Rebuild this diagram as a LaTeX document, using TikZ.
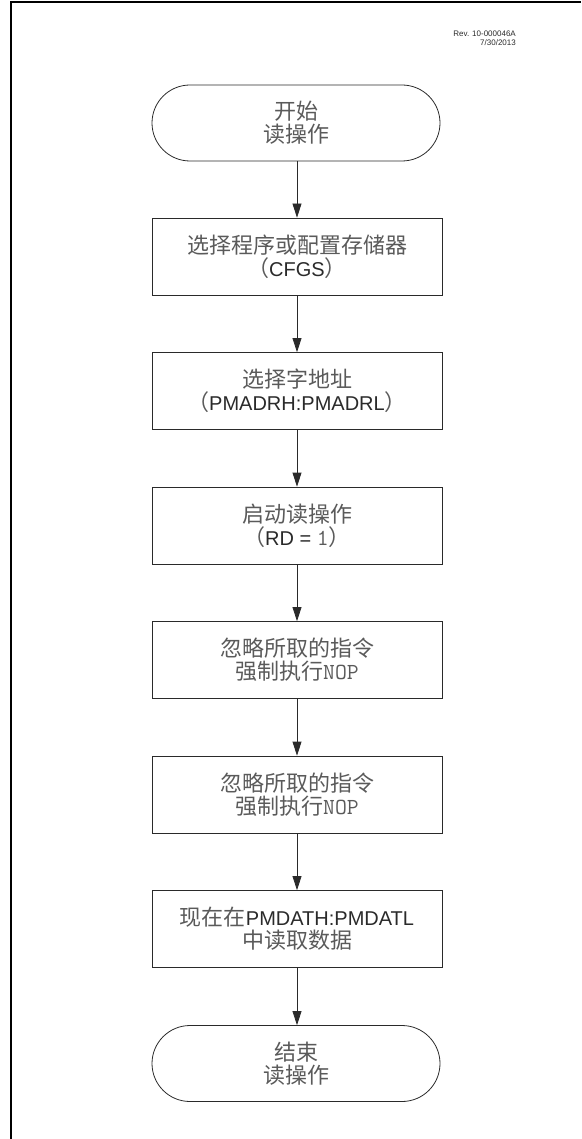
\documentclass[tikz,border=0pt]{standalone}
\usepackage{fontspec}
\setmainfont{Liberation Sans}
\newfontfamily\cjk[Scale=1.1]{Noto Sans CJK SC}
\usetikzlibrary{arrows.meta}
\definecolor{zhc}{HTML}{5A5A5A}
\definecolor{enc}{HTML}{2A2A2A}
\definecolor{linec}{HTML}{2A2A2A}
\newcommand\zh[1]{{\cjk\color{zhc}#1}}
\newcommand\mo[1]{{\ttfamily\fontsize{23}{23}\selectfont\color{zhc}#1}}
\tikzset{
  proc/.style={draw=linec, line width=0.8pt, rectangle, minimum width=290pt, minimum height=77pt, align=center, inner sep=0pt, font=\fontsize{20}{23}\selectfont, text=enc},
  term/.style={draw=linec, line width=0.8pt, rectangle, rounded corners=38pt, minimum width=288pt, minimum height=76pt, align=center, inner sep=0pt, font=\fontsize{20}{23}\selectfont, text=enc},
  flow/.style={draw=linec, line width=0.8pt, -{Triangle[length=14pt,width=9pt]}}
}
\begin{document}
\begin{tikzpicture}[x=1pt,y=-1pt]
\useasboundingbox (0,0) rectangle (581,1139);
\draw[line width=2pt, black] (11,1139) -- (11,2) -- (581,2);
\node[anchor=north east, align=right, inner sep=0pt, font=\fontsize{8}{9}\selectfont, text=enc] (rev) at (516,31) {Rev. 10-000046A\\7/30/2013};
\node[term] (s) at (296,123) {\zh{开始}\\\zh{读操作}};
\node[proc] (b1) at (297,256.5) {\zh{选择程序或配置存储器}\\\zh{（}CFGS\zh{）}};
\node[proc] (b2) at (297,391) {\zh{选择字地址}\\\zh{（}PMADRH:PMADRL\zh{）}};
\node[proc] (b3) at (297,525.5) {\zh{启动读操作}\\\zh{（}RD = \mo{1}\zh{）}};
\node[proc] (b4) at (297,660) {\zh{忽略所取的指令}\\\zh{强制执行}\mo{NOP}};
\node[proc] (b5) at (297,794.5) {\zh{忽略所取的指令}\\\zh{强制执行}\mo{NOP}};
\node[proc] (b6) at (297,929) {\zh{现在在}PMDATH:PMDATL\\\zh{中读取数据}};
\node[term] (e) at (296,1063.5) {\zh{结束}\\\zh{读操作}};
\draw[flow] (s.south -| b1.north) -- (b1.north);
\draw[flow] (b1) -- (b2);
\draw[flow] (b2) -- (b3);
\draw[flow] (b3) -- (b4);
\draw[flow] (b4) -- (b5);
\draw[flow] (b5) -- (b6);
\draw[flow] (b6.south) -- (e.north -| b6.south);
\end{tikzpicture}
\end{document}
